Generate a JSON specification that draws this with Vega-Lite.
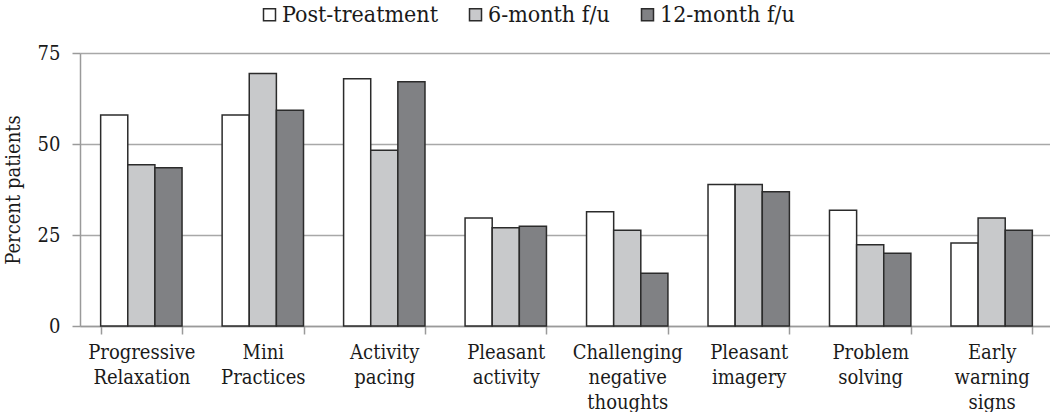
{
  "$schema": "https://vega.github.io/schema/vega-lite/v6.json",
  "width": 973,
  "height": 273,
  "padding": {"left": 3, "top": 3, "right": 1, "bottom": 0},
  "background": "white",
  "data": {
    "values": [
      {"skill": "Progressive Relaxation", "period": "Post-treatment", "pct": 58.0},
      {"skill": "Progressive Relaxation", "period": "6-month f/u", "pct": 44.3},
      {"skill": "Progressive Relaxation", "period": "12-month f/u", "pct": 43.5},
      {"skill": "Mini Practices", "period": "Post-treatment", "pct": 58.0},
      {"skill": "Mini Practices", "period": "6-month f/u", "pct": 69.4},
      {"skill": "Mini Practices", "period": "12-month f/u", "pct": 59.3},
      {"skill": "Activity pacing", "period": "Post-treatment", "pct": 67.9},
      {"skill": "Activity pacing", "period": "6-month f/u", "pct": 48.3},
      {"skill": "Activity pacing", "period": "12-month f/u", "pct": 67.1},
      {"skill": "Pleasant activity", "period": "Post-treatment", "pct": 29.7},
      {"skill": "Pleasant activity", "period": "6-month f/u", "pct": 27.0},
      {"skill": "Pleasant activity", "period": "12-month f/u", "pct": 27.4},
      {"skill": "Challenging negative thoughts", "period": "Post-treatment", "pct": 31.4},
      {"skill": "Challenging negative thoughts", "period": "6-month f/u", "pct": 26.3},
      {"skill": "Challenging negative thoughts", "period": "12-month f/u", "pct": 14.5},
      {"skill": "Pleasant imagery", "period": "Post-treatment", "pct": 38.9},
      {"skill": "Pleasant imagery", "period": "6-month f/u", "pct": 38.9},
      {"skill": "Pleasant imagery", "period": "12-month f/u", "pct": 36.9},
      {"skill": "Problem solving", "period": "Post-treatment", "pct": 31.8},
      {"skill": "Problem solving", "period": "6-month f/u", "pct": 22.3},
      {"skill": "Problem solving", "period": "12-month f/u", "pct": 20.0},
      {"skill": "Early warning signs", "period": "Post-treatment", "pct": 22.8},
      {"skill": "Early warning signs", "period": "6-month f/u", "pct": 29.7},
      {"skill": "Early warning signs", "period": "12-month f/u", "pct": 26.3}
    ]
  },
  "mark": {"type": "bar", "stroke": "#2b2b2b", "strokeWidth": 1.5},
  "encoding": {
    "x": {
      "field": "skill",
      "type": "nominal",
      "sort": null,
      "title": null,
      "scale": {"paddingInner": 0.33, "paddingOuter": 0.17},
      "axis": {
        "labelAngle": 0,
        "labelExpr": "isValid(datum.value) ? split(datum.value, ' ') : ''",
        "labelLineHeight": 25,
        "labelPadding": 8,
        "labelFontSize": 20,
        "tickBand": "extent",
        "tickSize": 8,
        "grid": false
      }
    },
    "xOffset": {
      "field": "period",
      "type": "nominal",
      "sort": ["Post-treatment", "6-month f/u", "12-month f/u"],
      "scale": {"paddingInner": 0, "paddingOuter": 0}
    },
    "y": {
      "field": "pct",
      "type": "quantitative",
      "title": "Percent patients",
      "scale": {"domain": [0, 75], "nice": false},
      "axis": {
        "values": [0, 25, 50, 75],
        "tickSize": 8,
        "labelPadding": 12,
        "labelFontSize": 20,
        "titleFontSize": 20,
        "titlePadding": 14
      }
    },
    "fill": {
      "field": "period",
      "type": "nominal",
      "sort": ["Post-treatment", "6-month f/u", "12-month f/u"],
      "scale": {
        "domain": ["Post-treatment", "6-month f/u", "12-month f/u"],
        "range": ["#ffffff", "#c8c9cb", "#808184"]
      },
      "legend": {
        "title": null,
        "orient": "none",
        "legendX": 178,
        "legendY": -50,
        "direction": "horizontal",
        "symbolType": "square",
        "symbolSize": 144,
        "symbolStrokeColor": "#2b2b2b",
        "symbolStrokeWidth": 1.5,
        "labelFontSize": 23,
        "labelFontWeight": "normal",
        "labelFont": "DejaVu Serif Condensed",
        "labelColor": "#1a1a1a",
        "columnPadding": 26,
        "symbolOffset": 0,
        "labelOffset": 1
      }
    }
  },
  "config": {
    "font": "DejaVu Serif Condensed",
    "view": {"stroke": null},
    "axis": {
      "labelFont": "DejaVu Serif Condensed",
      "titleFont": "DejaVu Serif Condensed",
      "titleFontWeight": "normal",
      "labelColor": "#1a1a1a",
      "titleColor": "#1a1a1a",
      "domainColor": "#9a9a9a",
      "domainWidth": 1.5,
      "tickColor": "#9a9a9a",
      "tickWidth": 1.5,
      "gridColor": "#a8a8a8",
      "gridWidth": 1.5
    }
  }
}
